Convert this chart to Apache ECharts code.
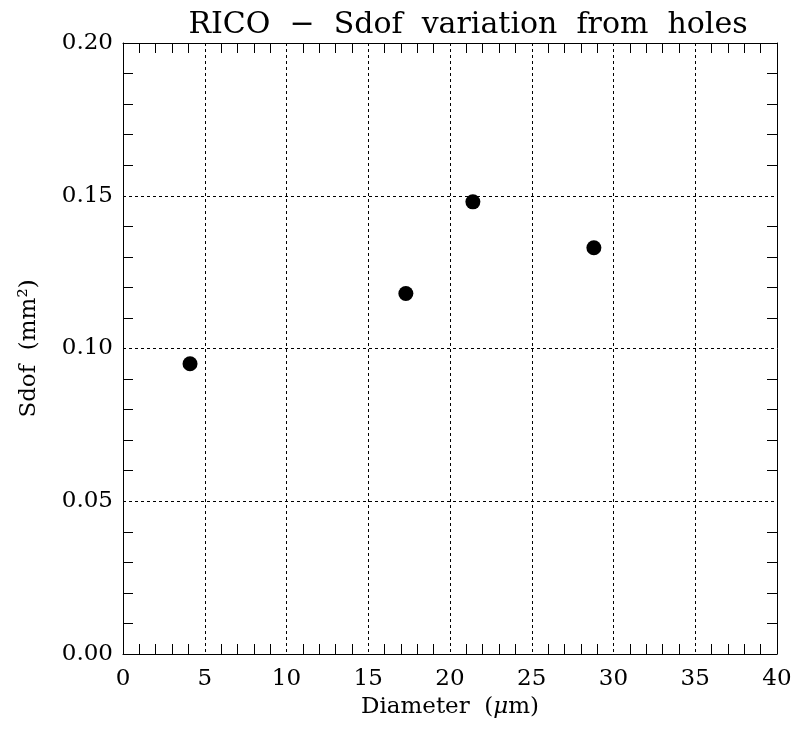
<!DOCTYPE html>
<html>
<head>
<meta charset="utf-8">
<script src="https://cdn.jsdelivr.net/npm/echarts@6/dist/echarts.min.js"></script>
<style>
  html, body { margin: 0; padding: 0; background: #fff; }
  #chart { width: 796px; height: 733px; }
</style>
</head>
<body>
<div id="chart"></div>
<script>
// Hole diameters (µm) and the measured Sdof (mm²)
const diameters = [4.1, 17.3, 21.4, 28.8];
const sdofValues = [0.095, 0.118, 0.148, 0.133];

const titleText = 'RICO  \u2212  Sdof  variation  from  holes';
const xAxisName = 'Diameter  ({i|\u03bc}m)';
const yAxisName = 'Sdof  (mm\u00b2)';

const FONT = 'DejaVu Serif';
const INK = '#000';

const points = diameters.map((d, i) => [d, sdofValues[i]]);

function baseAxis(extra) {
  return Object.assign({
    axisLine: { show: true, onZero: false, lineStyle: { color: INK, width: 1 } },
    axisTick: { show: false, inside: true },
    minorTick: { show: true, splitNumber: 5, length: 10, lineStyle: { color: INK, width: 1 } },
    splitLine: { show: false },
    axisLabel: { show: false }
  }, extra);
}

const chart = echarts.init(document.getElementById('chart'), null, { renderer: 'canvas' });
chart.setOption({
  animation: false,
  backgroundColor: '#fff',
  title: {
    text: titleText,
    left: 463,
    textAlign: 'center',
    top: 5,
    textStyle: { fontFamily: FONT, fontWeight: 'normal', fontSize: 30, color: INK }
  },
  grid: { left: 123, right: 19, top: 43, bottom: 79 },
  xAxis: [
    baseAxis({
      type: 'value', position: 'bottom', min: 0, max: 40, interval: 5,
      splitLine: { show: true, lineStyle: { color: INK, width: 1, type: [3, 3] } },
      axisLabel: { show: true, margin: 14, fontFamily: FONT, fontSize: 23, color: INK },
      name: xAxisName, nameLocation: 'middle', nameGap: 40,
      nameTextStyle: {
        fontFamily: FONT, fontSize: 23, color: INK,
        rich: { i: { fontFamily: FONT, fontStyle: 'italic', fontSize: 23, color: INK } }
      }
    }),
    baseAxis({ type: 'value', position: 'top', min: 0, max: 40, interval: 5 })
  ],
  yAxis: [
    baseAxis({
      type: 'value', position: 'left', min: 0, max: 0.2, interval: 0.05,
      splitLine: { show: true, lineStyle: { color: INK, width: 1, type: [3, 3] } },
      axisLabel: {
        show: true, margin: 10, fontFamily: FONT, fontSize: 23, color: INK,
        formatter: v => v.toFixed(2)
      },
      name: yAxisName, nameLocation: 'middle', nameGap: 82, nameRotate: 90,
      nameTextStyle: { fontFamily: FONT, fontSize: 23, color: INK }
    }),
    baseAxis({ type: 'value', position: 'right', min: 0, max: 0.2, interval: 0.05 })
  ],
  series: [{
    type: 'scatter',
    xAxisIndex: 0,
    yAxisIndex: 0,
    data: points,
    symbol: 'circle',
    symbolSize: 15,
    itemStyle: { color: INK, opacity: 1 }
  }]
});
</script>
</body>
</html>
